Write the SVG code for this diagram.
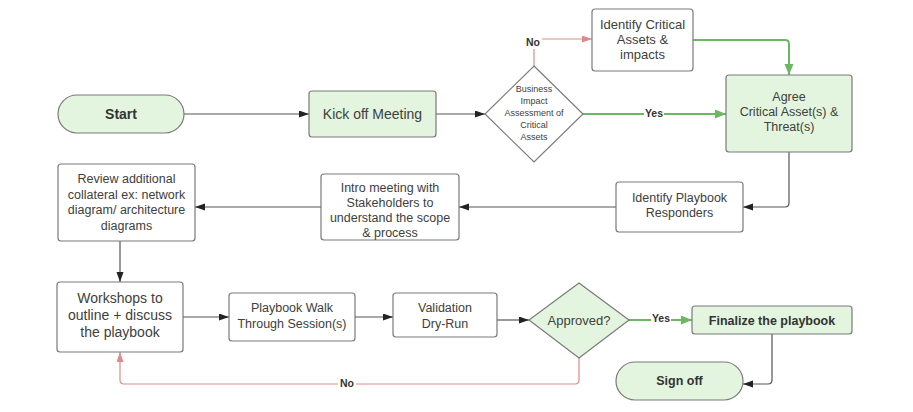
<svg xmlns="http://www.w3.org/2000/svg" width="913" height="412" viewBox="0 0 913 412">
<style>
.box{fill:#ffffff;stroke:#7a7a7a;stroke-width:1.2}
.gbox{fill:#e3f5de;stroke:#7a7a7a;stroke-width:1.2}
text{font-family:"Liberation Sans",Arial,sans-serif;fill:#404040;text-anchor:middle}
.t125{font-size:12.5px}
.t13{font-size:13px}
.t14{font-size:14px}
.t9{font-size:9px}
.b{font-weight:bold;fill:#333333}
.lbl{font-size:10.5px;font-weight:bold;fill:#333333}
.c{fill:none;stroke:#555555;stroke-width:1.2}
.cg{fill:none;stroke:#6cb763;stroke-width:2}
.cr{fill:none;stroke:#e0898c;stroke-width:1.2}
</style>
<defs>
<marker id="ak" markerUnits="userSpaceOnUse" markerWidth="11" markerHeight="8" refX="10" refY="3.5" orient="auto"><path d="M0,0 L10,3.5 L0,7 z" fill="#222222"/></marker>
<marker id="ag" markerUnits="userSpaceOnUse" markerWidth="12" markerHeight="10" refX="11" refY="4.5" orient="auto"><path d="M0,0 L11,4.5 L0,9 z" fill="#6cb763"/></marker>
<marker id="ar" markerUnits="userSpaceOnUse" markerWidth="11" markerHeight="8" refX="10" refY="3.5" orient="auto"><path d="M0,0 L10,3.5 L0,7 z" fill="#e0898c"/></marker>
</defs>
<rect width="913" height="412" fill="#ffffff"/>

<g id="connectors">
<path class="c" d="M184,114 H309" marker-end="url(#ak)"/>
<path class="c" d="M436,114 H485" marker-end="url(#ak)"/>
<path class="cr" d="M534,66 V39 H592" marker-end="url(#ar)"/>
<path class="cg" d="M583,114 H726" marker-end="url(#ag)"/>
<path class="cg" d="M693,40 H785 Q789,40 789,44 V75" marker-end="url(#ag)"/>
<path class="c" d="M789,152 V203 Q789,207 785,207 H743" marker-end="url(#ak)"/>
<path class="c" d="M616,207 H459" marker-end="url(#ak)"/>
<path class="c" d="M321,207 H195" marker-end="url(#ak)"/>
<path class="c" d="M120,241 V282" marker-end="url(#ak)"/>
<path class="c" d="M183,317 H229" marker-end="url(#ak)"/>
<path class="c" d="M355,317 H393" marker-end="url(#ak)"/>
<path class="c" d="M497,320 H529" marker-end="url(#ak)"/>
<path class="cg" d="M629,320 H692" stroke-width="1.6" marker-end="url(#ag)"/>
<path class="c" d="M772,334 V380 Q772,384 768,384 H743" marker-end="url(#ak)"/>
<path class="cr" d="M579,358 V380 Q579,384 575,384 H124 Q120,384 120,380 V352" marker-end="url(#ar)"/>
<rect x="525" y="35" width="17" height="14" fill="#ffffff"/>
<text class="lbl" x="533" y="46">No</text>
<rect x="644" y="107" width="20" height="13" fill="#ffffff"/>
<text class="lbl" x="654" y="117">Yes</text>
<rect x="651" y="312" width="20" height="12" fill="#ffffff"/>
<text class="lbl" x="661" y="322">Yes</text>
<rect x="338" y="377" width="18" height="13" fill="#ffffff"/>
<text class="lbl" x="347" y="387">No</text>
</g>

<g id="start">
<rect class="gbox" x="58" y="95" width="126" height="38" rx="19"/>
<text class="t14 b" x="121" y="119">Start</text>
</g>
<g id="kickoff">
<rect class="gbox" x="309" y="91" width="127" height="46" rx="3"/>
<text class="t14" x="372.5" y="119">Kick off Meeting</text>
</g>
<g id="bia">
<polygon class="box" points="534,66 583,114 534,162 485,114"/>
<text class="t9" x="534" y="92">Business</text>
<text class="t9" x="534" y="104">Impact</text>
<text class="t9" x="534" y="116">Assessment of</text>
<text class="t9" x="534" y="128">Critical</text>
<text class="t9" x="534" y="140">Assets</text>
</g>
<g id="identify-assets">
<rect class="box" x="592" y="9" width="101" height="62" rx="3"/>
<text class="t13" x="642.5" y="29">Identify Critical</text>
<text class="t13" x="642.5" y="44">Assets &amp;</text>
<text class="t13" x="642.5" y="59">impacts</text>
</g>
<g id="agree">
<rect class="gbox" x="726" y="75" width="126" height="77" rx="3"/>
<text class="t125" x="789" y="101">Agree</text>
<text class="t125" x="789" y="116">Critical Asset(s) &amp;</text>
<text class="t125" x="789" y="131">Threat(s)</text>
</g>
<g id="responders">
<rect class="box" x="616" y="182" width="127" height="50" rx="3"/>
<text class="t125" x="679.5" y="202">Identify Playbook</text>
<text class="t125" x="679.5" y="217">Responders</text>
</g>
<g id="intro">
<rect class="box" x="321" y="174" width="138" height="66" rx="3"/>
<text class="t125" x="390" y="192">Intro meeting with</text>
<text class="t125" x="390" y="207">Stakeholders to</text>
<text class="t125" x="390" y="222">understand the scope</text>
<text class="t125" x="390" y="237">&amp; process</text>
</g>
<g id="review">
<rect class="box" x="58" y="164" width="137" height="77" rx="3"/>
<text class="t125" x="126.5" y="183">Review additional</text>
<text class="t125" x="126.5" y="198.5">collateral ex: network</text>
<text class="t125" x="126.5" y="214">diagram/ architecture</text>
<text class="t125" x="126.5" y="229.5">diagrams</text>
</g>
<g id="workshops">
<rect class="box" x="57" y="282" width="126" height="70" rx="3"/>
<text class="t14" x="120" y="303">Workshops to</text>
<text class="t14" x="120" y="320">outline + discuss</text>
<text class="t14" x="120" y="337">the playbook</text>
</g>
<g id="walkthrough">
<rect class="box" x="229" y="293" width="126" height="48" rx="3"/>
<text class="t125" x="292" y="312">Playbook Walk</text>
<text class="t125" x="292" y="328">Through Session(s)</text>
</g>
<g id="validation">
<rect class="box" x="393" y="293" width="104" height="44" rx="3"/>
<text class="t125" x="445" y="312">Validation</text>
<text class="t125" x="445" y="328">Dry-Run</text>
</g>
<g id="approved">
<polygon class="gbox" points="579,283 629,320 579,358 529,320"/>
<text class="t13" x="579" y="325">Approved?</text>
</g>
<g id="finalize">
<rect class="gbox" x="692" y="306" width="160" height="28" rx="3"/>
<text class="t125 b" x="772" y="324.5">Finalize the playbook</text>
</g>
<g id="signoff">
<rect class="gbox" x="616" y="362" width="127" height="38" rx="19"/>
<text class="t125 b" x="679.5" y="385">Sign off</text>
</g>
</svg>
